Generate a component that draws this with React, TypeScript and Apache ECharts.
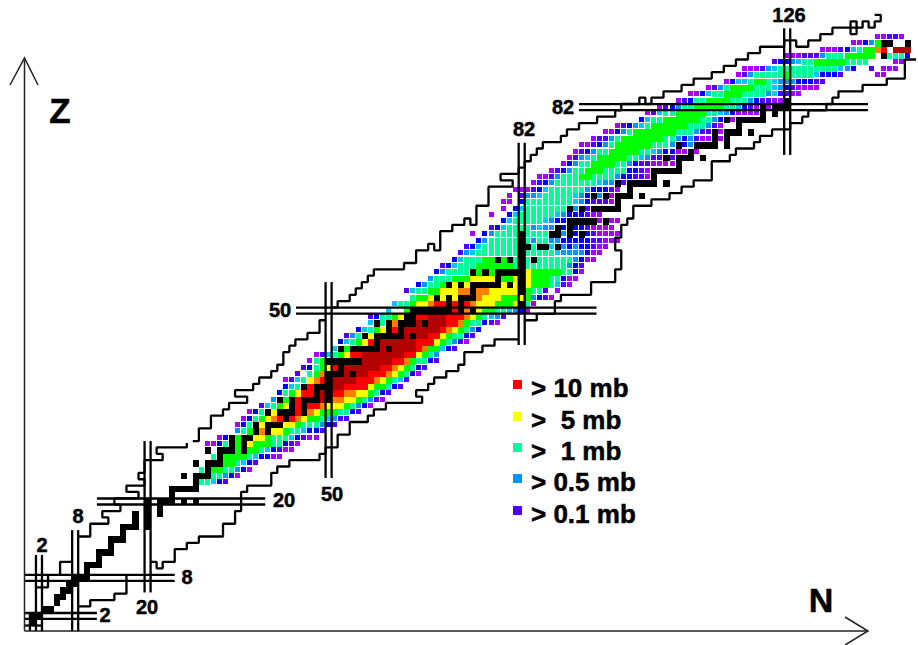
import React, { useEffect, useRef } from "react";
import * as echarts from "echarts";

// [Z, first N, levels from that N on]; "." means no cell
const rows: [number, number, string][] = [
  [1, 1, "k"], [2, 1, "kk"], [3, 3, "kk"], [4, 5, "k"], [5, 5, "kk"], [6, 6, "kk"], [7, 7, "kk"],
  [8, 8, "kkk"], [9, 10, "k"], [10, 10, "kkk"], [11, 12, "k"], [12, 12, "kkk"], [13, 14, "k"],
  [14, 14, "kkk"], [15, 16, "k"], [16, 16, "kkk.k"], [17, 18, "k.k"], [18, 18, "k.k.k"],
  [19, 20, "k.k"], [20, 20, "k.kkk.k.k"], [21, 24, "k"], [22, 24, "kkkkk"],
  [23, 28, "kttcbv"],
  [24, 26, "k.kkkttabp"],
  [25, 29, "tkggttabp"],
  [26, 28, "k.kkkggtcbv"],
  [27, 31, "tkggggtcbbpp"],
  [28, 30, "k.kkkgkggtcbvpp"],
  [29, 30, "ppbtkgkygggttbvp"],
  [30, 32, "pbkgkkyygtttcbvpp"],
  [31, 35, "atgkokyygttcbbv"],
  [32, 35, "pbtkykkkyygtttabv"],
  [33, 36, "pbtgyorkroyggtcavv"],
  [34, 37, "pbtkykkkrkoygggttbv"],
  [35, 39, "vctgykrkrroyyygtabp"],
  [36, 41, "akgkrkkkdkooyygtavp"],
  [37, 42, "btgyrrkdkrrooyygtbv"],
  [38, 43, "bctkrkkkddrrrryggtbv"],
  [39, 43, "pvctyorkddddrrroygtcv"],
  [40, 45, "v.tgokkkdkddrrroygtbp"],
  [41, 46, "vbtgyrkddddddrroygtbv"],
  [42, 47, "ptgkkkkkkdddddrrogttbv"],
  [43, 48, "pvctgyrrdddddddrrygta"],
  [44, 51, "ckgkkkkkdkddddroggcbv"],
  [45, 52, "bctgyrkddddddrrrygtavp"],
  [46, 53, "vatkykkkkkdkddrrygttbv"],
  [47, 55, "bctgykrkddddddroygtab"],
  [48, 57, "cktkokkkdkdddrrogttbvp"],
  [49, 57, "vbttgykkrrdddrrroygtcav"],
  [50, 60, "c..gkkkkkkkrkokyggttcabp"],
  [51, 61, "cttgyyorrkrkroyyygggyktp"],
  [52, 64, "tggykykykkkoyyygggygabvp"],
  [53, 63, "vcttggyyyookooyyyyykgttv.p"],
  [54, 65, "battgkykykkkkkykykygggtcvp"],
  [55, 67, "atttgggyyyykggykygggttbpp"],
  [56, 68, "battttkgkgkkkkkygggggttbp"],
  [57, 69, "vbctttggggggtktttttttabv"],
  [58, 71, "bctttggkgktktkttttttabpp"],
  [59, 72, "vactttttttktttttcaaaabpp"],
  [60, 73, "vbcttttttkktkkckababbvpp"],
  [61, 75, "batttttktattaabbbbbvvppp"],
  [62, 74, "p.battttkttttkkakbkbvpppp"],
  [63, 77, "vbcttttacaakbkbbvpppp"],
  [64, 79, "bctttttcabbkkkkkpkpp"],
  [65, 77, "p..bcttttttcabbbvpp"],
  [66, 79, "p.bctttttttkakvkkkkk"],
  [67, 79, "pp.bttttttttcabvvvpk"],
  [68, 80, "p.vaactttttcabkakpkkk.k"],
  [69, 81, "pppvbcttttttabbbvp.k"],
  [70, 84, "pvbatttttttcaakvkkkkk.k"],
  [71, 85, "ppvatttggttttabbvvpk"],
  [72, 87, "pvbattgggttttbbvpkkkkk"],
  [73, 89, "pbattggggttabvvppppk"],
  [74, 90, "pvactgggggttcavvkvkkk.k"],
  [75, 91, "pvbattgggggttcabbppkp"],
  [76, 92, "ppvbatggggggtttakbakkkk.k"],
  [77, 94, "pvvatgggggggttabavppkpk"],
  [78, 96, "ppbatgggggggtttavvkpkkk.k"],
  [79, 98, "pvbactggggggtttavp..k"],
  [80, 102, "bcttggggggttabkpkkkkk"],
  [81, 103, "pvcttgggggttcabppppk.k"],
  [82, 105, "pvbattgggggttcbvpkpkkk"],
  [83, 108, "pvbttggggtttabvvppk"],
  [84, 110, "ppbcttgggttttacvvpp"],
  [85, 113, "pvatggggtttcabvpppp"],
  [86, 116, "pbcctggtcaaabbbvv"],
  [87, 118, "pvatttttgttttcbbbv.....pp"],
  [88, 119, "pppvacttttttttttcab..v.ppp"],
  [89, 124, "vbbacttgggggtttt....pp"],
  [90, 126, "pppvvvatttggggg.ktttb"],
  [91, 132, "pppvbctggor.ddd"],
  [92, 137, "ppbagkk..k"],
  [93, 141, "ppvvp"],
];

const levelColors: Record<string, string> = {
  k: "#000000", d: "#b30000", r: "#ff0000", o: "#ff8000", y: "#ffff00", g: "#00ff00",
  t: "#00ff99", c: "#00c8ff", a: "#0096ff", b: "#0000ff", v: "#5000ff", p: "#a800ff",
};
const levelKeys = Object.keys(levelColors);
const solidLevels = "kdryog";
const smallLevels = "pvbac";

const magic = [2, 8, 20, 50, 82, 126];
const neutronLineFrom = [-0.4, -0.4, 5.7, 23.7, 44.6, 74.5];
const neutronLineTo = [11.6, 15.5, 29.5, 54.5, 76.4, 94.4];
const protonLineFrom = [-0.3, -0.3, 11.6, 44.6, 91.5];
const protonLineTo = [11.6, 24.5, 39.5, 94.4, 139.4];
const protonMagic = [2, 8, 20, 50, 82];

const upperCorner = [[1.5, 6.5], [3.5, 6.5], [3.5, 8.5]];
const upperLight = [[5.5, 8.5], [5.5, 10.5], [7.5, 10.5]];
const upperA = [
  [8.5, 14.5], [10.5, 14.5], [10.5, 16.5], [13.5, 16.5], [13.5, 17.5], [12.5, 17.5], [12.5, 18.5], [15.5, 18.5],
  [15.5, 19.5], [14.5, 19.5], [14.5, 20.5], [18.5, 20.5], [18.5, 21.5], [16.5, 21.5], [16.5, 22.5], [19.5, 22.5],
  [19.5, 23.5], [18.5, 23.5], [18.5, 24.5], [19.5, 24.5], [19.5, 26.5], [22.5, 26.5], [22.5, 27.5], [21.5, 27.5],
  [21.5, 28.5], [26.5, 28.5], [26.5, 29.2],
];
const upperB = [
  [27.5, 29.5], [28.5, 29.5], [28.5, 31.5], [30.5, 31.5], [30.5, 33.5], [32.5, 33.5], [32.5, 34.5], [33.5, 34.5],
  [33.5, 35.5], [36.5, 35.5], [36.5, 36.5], [34.5, 36.5], [34.5, 37.5], [37.5, 37.5], [37.5, 38.5], [38.5, 38.5],
  [38.5, 39.5], [40.5, 39.5], [40.5, 40.5], [41.5, 40.5], [41.5, 41.5], [42.5, 41.5], [42.5, 43.5], [43.5, 43.5],
  [43.5, 44.5], [44.5, 44.5], [44.5, 45.5], [46.5, 45.5], [46.5, 46.5], [48.5, 46.5], [48.5, 48.5], [49.5, 48.5],
];
const upperC = [
  [50.5, 50.5], [51.5, 50.5], [51.5, 51.5], [53.5, 51.5], [53.5, 52.5], [54.5, 52.5], [54.5, 53.5], [55.5, 53.5],
  [55.5, 54.5], [56.5, 54.5], [56.5, 55.5], [57.5, 55.5], [57.5, 56.5], [62.5, 56.5], [62.5, 57.5], [64.5, 57.5],
  [64.5, 59.5], [66.5, 59.5], [66.5, 60.5], [67.5, 60.5], [67.5, 59.5], [68.5, 59.5], [68.5, 62.5], [70.5, 62.5],
  [70.5, 63.5], [72.5, 63.5], [72.5, 64.5], [73.5, 64.5], [73.5, 63.5], [74.5, 63.5], [74.5, 66.5], [76.5, 66.5],
  [76.5, 69.5], [80.5, 69.5], [80.5, 70.5], [78.5, 70.5], [78.5, 71.5], [81.5, 71.5], [81.5, 72.5], [82.5, 72.5],
  [82.5, 73.5], [83.5, 73.5], [83.5, 74.5], [84.5, 74.5], [84.5, 75.5], [85.5, 75.5], [85.5, 76.5], [88.5, 76.5],
  [88.5, 77.5], [89.5, 77.5], [89.5, 78.5], [91.5, 78.5], [91.5, 79.5], [94.5, 79.5], [94.5, 80.5], [97.5, 80.5],
  [97.5, 81.5], [98.5, 81.5], [98.5, 82.5], [101.5, 82.5], [101.5, 83.5], [102.5, 83.5], [102.5, 82.5], [103.5, 82.5],
  [103.5, 83.5], [105.5, 83.5], [105.5, 84.5], [108.5, 84.5], [108.5, 85.5], [110.5, 85.5], [110.5, 86.5], [113.5, 86.5],
  [113.5, 87.5], [115.5, 87.5], [115.5, 88.5], [117.5, 88.5], [117.5, 89.5], [119.5, 89.5], [119.5, 90.5], [121.5, 90.5],
  [121.5, 91.5], [125.5, 91.5], [125.5, 92.5], [127.5, 92.5], [127.5, 91.5], [129.5, 91.5], [129.5, 92.5], [131.5, 92.5],
  [131.5, 93.5], [133.5, 93.5], [133.5, 94.5], [136.5, 94.5], [136.5, 95.5], [137.5, 95.5], [137.5, 93.5], [136.5, 93.5],
  [136.5, 94.5], [137.5, 94.5], [138.5, 94.5], [138.5, 95.5], [139.5, 95.5], [139.5, 94.5], [140.5, 94.5], [140.5, 95.5],
  [141.5, 95.5], [141.5, 96.5], [140.5, 96.5],
];
const lowerA = [
  [147.5, 89.5], [145.5, 89.5], [145.5, 86.5], [142.5, 86.5], [142.5, 85.5], [138.5, 85.5], [138.5, 84.5], [134.5, 84.5],
  [134.5, 83.5], [133.5, 83.5], [133.5, 82.5], [132.5, 82.5], [132.5, 81.5], [129.5, 81.5], [129.5, 80.5], [128.5, 80.5],
  [128.5, 79.5], [126.5, 79.5], [126.5, 78.5], [123.5, 78.5], [123.5, 77.5], [121.5, 77.5], [121.5, 76.5], [120.5, 76.5],
  [120.5, 75.5], [117.5, 75.5], [117.5, 74.5], [116.5, 74.5], [116.5, 73.5], [113.5, 73.5], [113.5, 70.5], [110.5, 70.5],
  [110.5, 69.5], [108.5, 69.5], [108.5, 68.5], [106.5, 68.5], [106.5, 67.5], [103.5, 67.5], [103.5, 66.5], [100.5, 66.5],
  [100.5, 64.5], [99.5, 64.5], [99.5, 63.5], [98.5, 63.5], [98.5, 61.5], [97.5, 61.5], [97.5, 59.5], [98.5, 59.5],
  [98.5, 56.5], [97.5, 56.5], [97.5, 54.5], [93.5, 54.5], [93.5, 52.5], [88.5, 52.5], [88.5, 51.5], [87.5, 51.5],
  [87.5, 49.5], [84.5, 49.5], [84.5, 48.5], [82.5, 48.5],
];
const lowerB = [
  [81.5, 45.5], [77.5, 45.5], [77.5, 44.5], [75.5, 44.5], [75.5, 43.5], [72.5, 43.5], [72.5, 41.5], [71.5, 41.5],
  [71.5, 40.5], [69.5, 40.5], [69.5, 39.5], [67.5, 39.5], [67.5, 38.5], [66.5, 38.5], [66.5, 37.5], [64.5, 37.5],
  [64.5, 36.5], [65.5, 36.5], [65.5, 35.5], [59.5, 35.5], [59.5, 34.5], [57.5, 34.5], [57.5, 33.5], [56.5, 33.5],
  [56.5, 32.5], [53.5, 32.5], [53.5, 30.5], [51.5, 30.5], [51.5, 28.5], [49.5, 28.5], [49.5, 27.5], [48.5, 27.5],
  [48.5, 26.5], [43.5, 26.5], [43.5, 25.5], [41.5, 25.5], [41.5, 24.5], [40.5, 24.5], [40.5, 22.5], [36.5, 22.5],
  [36.5, 21.5], [35.5, 21.5], [35.5, 18.5], [34.5, 18.5], [34.5, 16.5], [32.5, 16.5], [32.5, 14.5], [28.5, 14.5],
  [28.5, 13.5], [26.5, 13.5], [26.5, 12.5], [24.5, 12.5], [24.5, 10.5], [22.5, 10.5], [22.5, 9.5], [21.5, 9.5],
  [21.5, 10.5], [20.5, 10.5],
];
const lowerC = [
  [16.5, 8.5], [16.5, 5.5], [14.5, 5.5], [14.5, 4.5], [10.5, 4.5], [10.5, 3.5], [8.5, 3.5],
];
const cornerH = [[-0.3, 0.5], [2.5, 0.5]];
const cornerV = [[0.5, 2.5], [0.5, -0.3]];

const legendLabels = ["> 10 mb", ">  5 mb", ">  1 mb", "> 0.5 mb", "> 0.1 mb"];
const legendKeys = ["r", "y", "t", "a", "v"];
const legendY = [388, 420, 451, 482, 514];

const magicTexts: [string, number, number][] = [
  ["2", 42, 545], ["8", 78, 516], ["20", 147, 607], ["8", 187, 577], ["2", 105, 615],
  ["20", 284, 500], ["50", 332, 494], ["50", 280, 310], ["82", 524, 129], ["82", 563, 107], ["126", 789, 15],
];

const FONT = '"Liberation Sans", Arial, sans-serif';

export default function App() {
  const ref = useRef<HTMLDivElement>(null);
  useEffect(() => {
    const chart = echarts.init(ref.current!, null, { renderer: "svg" });
    const cells: number[][] = [];
    rows.forEach(([z, n0, s]) => {
      s.split("").forEach((c, i) => {
        if (c !== ".") cells.push([n0 + i, z, levelKeys.indexOf(c)]);
      });
    });
    const lineSeries = (data: number[][], width = 2.3) => ({
      type: "line",
      data,
      symbol: "none",
      silent: true,
      clip: false,
      z: 5,
      lineStyle: { color: "#000", width },
    });
    const paths = [upperCorner, upperLight, upperA, upperB, upperC, lowerA, lowerB, lowerC, cornerH, cornerV];
    const doubles: number[][][] = [];
    magic.forEach((m, i) => {
      doubles.push([[m - 0.5, neutronLineFrom[i]], [m - 0.5, neutronLineTo[i]]]);
      doubles.push([[m + 0.5, neutronLineFrom[i]], [m + 0.5, neutronLineTo[i]]]);
    });
    protonMagic.forEach((m, i) => {
      doubles.push([[protonLineFrom[i], m - 0.47], [protonLineTo[i], m - 0.47]]);
      doubles.push([[protonLineFrom[i], m + 0.47], [protonLineTo[i], m + 0.47]]);
    });
    const arrow = { stroke: "#222", lineWidth: 1.5, fill: "none" };
    const heavy = { fill: "#000", stroke: "#000", lineWidth: 0.5, textAlign: "center", textVerticalAlign: "middle" };
    const graphics: any[] = [
      { type: "polyline", shape: { points: [[24.5, 631], [24.5, 60]] }, style: arrow },
      { type: "polyline", shape: { points: [[10, 85], [24.5, 58], [38, 85]] }, style: arrow },
      { type: "polyline", shape: { points: [[24.5, 631], [868, 631]] }, style: arrow },
      { type: "polyline", shape: { points: [[845, 617], [868, 631], [845, 645]] }, style: arrow },
      { type: "text", style: { ...heavy, text: "Z", x: 60, y: 110, font: `bold 35px ${FONT}` } },
      { type: "text", style: { ...heavy, text: "N", x: 821, y: 600, font: `bold 34px ${FONT}` } },
    ];
    magicTexts.forEach(([t, x, y]) => {
      graphics.push({ type: "text", style: { ...heavy, text: t, x, y, font: `bold 20px ${FONT}` } });
    });
    legendLabels.forEach((t, i) => {
      graphics.push({ type: "rect", shape: { x: 513, y: legendY[i] - 8, width: 9, height: 9 }, style: { fill: levelColors[legendKeys[i]] } });
      graphics.push({ type: "text", style: { ...heavy, text: t, x: 531, y: legendY[i], font: `bold 26px ${FONT}`, textAlign: "left" } });
    });
    chart.setOption({
      animation: false,
      backgroundColor: "#fff",
      grid: { left: 26.9, top: 5.42, width: 887, height: 623.28 },
      xAxis: { type: "value", min: 0, max: 147, show: false },
      yAxis: { type: "value", min: 0, max: 98, show: false },
      graphic: graphics,
      series: [
        {
          type: "custom",
          silent: true,
          clip: false,
          z: 2,
          data: cells,
          encode: { x: 0, y: 1 },
          renderItem: (_p: any, api: any) => {
            const [cx, cy] = api.coord([api.value(0), api.value(1)]);
            const [sw, sh] = api.size([1, 1]);
            const key = levelKeys[api.value(2)];
            const solid = solidLevels.includes(key);
            const x1 = Math.round(cx - sw / 2);
            const x2 = Math.round(cx + sw / 2);
            const y1 = Math.round(cy - sh / 2);
            const y2 = Math.round(cy + sh / 2);
            return {
              type: "rect",
              shape: solid
                ? { x: x1, y: y1, width: x2 - x1, height: y2 - y1 }
                : { x: x1, y: y1, width: 5, height: smallLevels.includes(key) ? 5 : 6 },
              style: { fill: levelColors[key] },
            };
          },
        },
        ...paths.map((p) => lineSeries(p)),
        ...doubles.map((p) => lineSeries(p)),
      ],
    } as any);
    return () => chart.dispose();
  }, []);
  return <div ref={ref} style={{ position: "fixed", left: 0, top: 0, width: 918, height: 645, background: "#fff" }} />;
}
